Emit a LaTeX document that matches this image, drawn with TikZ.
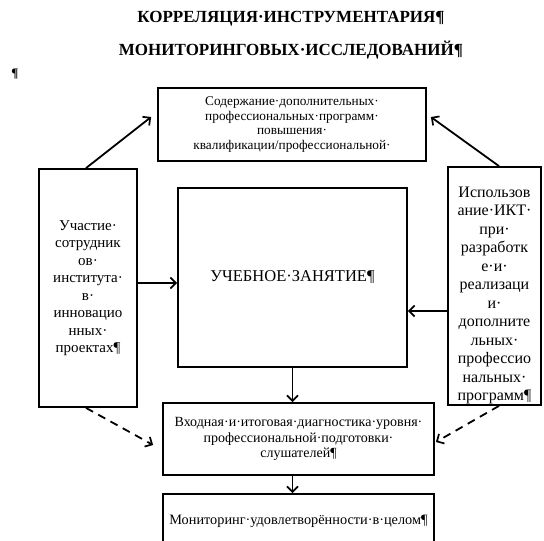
\documentclass[tikz,border=0pt]{standalone}
\usepackage{fontspec}
\setmainfont{Liberation Serif}
\newfontfamily\tnr{Liberation Serif}
\usetikzlibrary{arrows.meta}
\tikzset{
  box/.style={draw, line width=1.8pt, inner sep=0pt, align=center},
  txt/.style={inner sep=0pt, align=center},
  arr/.style={line width=1.8pt, -{Straight Barb[length=5.5pt,width=11pt,line width=1.7pt]}},
  darr/.style={arr, dash pattern=on 8pt off 6pt},
  ttl/.style={font=\tnr\bfseries\fontsize{17}{17}\selectfont, inner sep=0pt},
}
\begin{document}
\begin{tikzpicture}[x=1pt,y=-1pt]
\useasboundingbox (0,0) rectangle (544,541);
\clip (0,0) rectangle (544,541);
\node[ttl] (t1) at (291,18.5) {КОРРЕЛЯЦИЯ·ИНСТРУМЕНТАРИЯ¶};
\node[ttl] (t2) at (291,50.5) {МОНИТОРИНГОВЫХ·ИССЛЕДОВАНИЙ¶};
\node[ttl, font=\tnr\bfseries\fontsize{13}{13}\selectfont] (pil) at (15,74) {¶};

\node[box, minimum width=268pt, minimum height=73pt,
      font=\tnr\fontsize{13.3}{14.5}\selectfont] (tb) at (292,124.5)
  {Содержание·дополнительных·\\профессиональных·программ·\\повышения·\\квалификации/профессиональной·};
\node[box, minimum width=98pt, minimum height=238pt,
      font=\tnr\fontsize{15}{17.5}\selectfont] (lb) at (88,288)
  {Участие·\\сотрудник\\ов·\\института·\\в·\\инновацио\\нных·\\проектах¶};
\node[box, minimum width=229pt, minimum height=179pt,
      font=\tnr\fontsize{16.5}{17}\selectfont] (cb) at (292.5,277.5)
  {УЧЕБНОЕ·ЗАНЯТИЕ¶};
\node[box, minimum width=93pt, minimum height=238pt] (rb) at (494.5,286) {};
\node[txt, font=\tnr\fontsize{16}{18.5}\selectfont] (rbt) at (494.5,295.5)
  {Использов\\ание·ИКТ·\\при·\\разработк\\е·и·\\реализаци\\и·\\дополните\\льных·\\профессио\\нальных·\\программ¶};
\node[box, minimum width=271pt, minimum height=72pt,
      font=\tnr\fontsize{14}{15.5}\selectfont] (b1) at (298.5,439)
  {Входная·и·итоговая·диагностика·уровня·\\профессиональной·подготовки·\\слушателей¶};
\node[box, minimum width=271pt, minimum height=54pt,
      font=\tnr\fontsize{14.3}{15.5}\selectfont] (b2) at (298.5,521)
  {Мониторинг·удовлетворённости·в·целом¶};

\draw[arr] ([xshift=-2pt]lb.north) -- ([shift={(-6,-7.5)}]tb.west);
\draw[arr] ([xshift=4.5pt]rb.north) -- ([shift={(4,-7.5)}]tb.east);
\draw[arr] ([yshift=5pt]lb.east) -- ([yshift=5pt]lb.east -| cb.west);
\draw[arr] ([yshift=-25pt]rb.west) -- ([yshift=-25pt]rb.west -| cb.east);
\draw[arr] (cb.south) -- (cb.south |- b1.north);
\draw[arr] (b1.south -| cb.south) -- (b2.north -| cb.south);
\draw[darr] ([xshift=-2pt]lb.south) -- ([shift={(-9,6)}]b1.west);
\draw[darr] ([xshift=4.5pt]rb.south) -- ([shift={(1,3)}]b1.east);
\end{tikzpicture}
\end{document}
